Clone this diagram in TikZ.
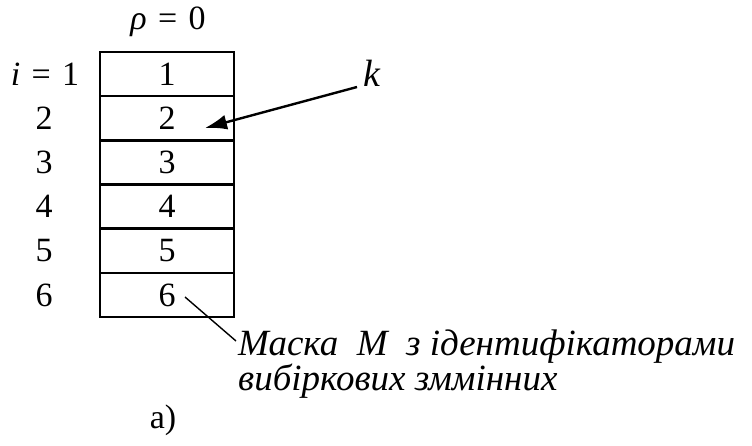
\documentclass[tikz,border=0pt]{standalone}
\usepackage{fontspec}
\newcommand\tnrfont{\fontspec{Liberation Serif}}
\usetikzlibrary{arrows.meta}
\begin{document}
\begin{tikzpicture}[x=1pt,y=-1pt,
  cell/.style={draw,line width=2.4pt,minimum width=134pt,minimum height=44.17pt,inner sep=0pt},
  lab/.style={inner sep=0pt},
  note/.style={inner sep=0pt},
  ptr/.style={line width=2.4pt,-{Latex[length=22pt,width=15pt]}},
  lead/.style={line width=1.4pt}]
\useasboundingbox (0,0) rectangle (752,446);
\foreach \n in {1,...,6}{
  \node[cell] (c\n) at (167,{52+44.17*(\n-0.5)}) {\tnrfont\fontsize{34}{38}\selectfont \n};
}
\node[lab] (rho) at (168,22) {\tnrfont\fontsize{34}{38}\selectfont\textit{ρ}\,\,=\,\,0};
\node[lab] (i1) at (45,74) {\tnrfont\fontsize{34}{38}\selectfont\textit{i}\,\,=\,\,1};
\foreach \n in {2,...,6}{
  \node[lab] (l\n) at (44,{52+44.17*(\n-0.5)}) {\tnrfont\fontsize{34}{38}\selectfont \n};
}
\node[note,anchor=base west] (k) at (363,87) {\tnrfont\fontsize{38}{42}\selectfont\itshape k};
\coordinate (ks) at (357,87);
\coordinate (tip) at (205,128);
\draw[ptr] (ks) -- (tip);
\node[note,anchor=base west] (m1) at (238,355) {\tnrfont\fontsize{37}{42}\selectfont\itshape Маска\ \ М\ \ з ідентифікаторами};
\node[note,anchor=base west] (m2) at (238,390) {\tnrfont\fontsize{37}{42}\selectfont\itshape вибіркових зммінних};
\coordinate (s6) at (185,297);
\coordinate (e6) at (236,341);
\draw[lead] (s6) -- (e6);
\node[lab] (a) at (163,420) {\tnrfont\fontsize{34}{38}\selectfont а)};
\end{tikzpicture}
\end{document}
